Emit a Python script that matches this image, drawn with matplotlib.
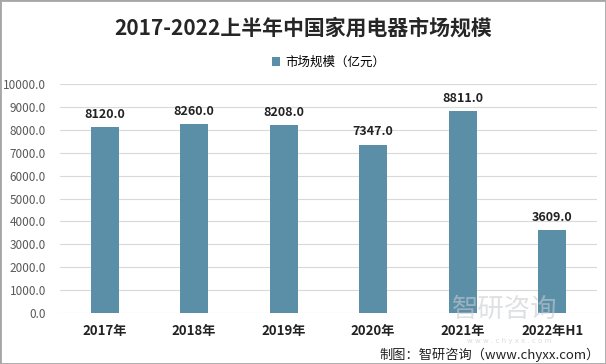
import matplotlib.pyplot as plt
import numpy as np

plt.rcParams['font.family'] = ['Noto Sans CJK SC', 'DejaVu Sans']

years = ['2017年', '2018年', '2019年', '2020年', '2021年', '2022年H1']
values = [8120.0, 8260.0, 8208.0, 7347.0, 8811.0, 3609.0]
yticks = np.arange(0, 10001, 1000)

fig = plt.figure(figsize=(6.06, 3.64), dpi=100)
ax = fig.add_axes([0.099, 0.140, 0.886, 0.629])

x = np.arange(len(years))
ax.bar(x, values, width=0.31, color='#5b8fa8', zorder=3, label='市场规模（亿元）')
for xi, v in zip(x, values):
    ax.text(xi, v + 280, f'{v:.1f}', ha='center', va='bottom', fontsize=9,
            fontweight='bold', color='#222222')

ax.set_xlim(-0.5, len(years) - 0.5)
ax.set_ylim(0, 10000)
ax.set_yticks(yticks)
ax.set_yticklabels([f'{t:.1f}' for t in yticks], fontsize=8.5, color='#595959')
ax.set_xticks(x)
ax.set_xticklabels(years, fontsize=9.5, fontweight='bold', color='#222222')
ax.tick_params(axis='both', length=0)
ax.tick_params(axis='x', pad=8)
ax.tick_params(axis='y', pad=10)
ax.grid(axis='y', color='#d9d9d9', linewidth=0.8, zorder=0)
for s in ax.spines.values():
    s.set_visible(False)

fig.text(0.5, 0.922, '2017-2022上半年中国家用电器市场规模', ha='center', va='center',
         fontsize=15, fontweight='bold', color='#262626')
ax.legend(loc='center', bbox_to_anchor=(0.5, 1.095), frameon=False, fontsize=9,
          handlelength=0.7, handleheight=0.7, handletextpad=0.4)

# watermark
fig.text(0.745, 0.15, '智研咨询', fontsize=19, color='#c8ccd0', alpha=0.6,
         ha='left', va='center', zorder=0)
fig.text(0.77, 0.062, 'w w w . c h y x x . c o m', fontsize=5, color='#c8ccd0',
         alpha=0.7, ha='left', va='center', zorder=0, family='DejaVu Sans')

fig.text(0.99, 0.026, '制图：智研咨询（www.chyxx.com）', ha='right', va='center',
         fontsize=9.5, color='#222222')

fig.patches.append(plt.Rectangle((0, 0), 1, 1, transform=fig.transFigure,
                                 fill=False, edgecolor='#a6a6a6', linewidth=2))

fig.savefig('out.png', dpi=100)
